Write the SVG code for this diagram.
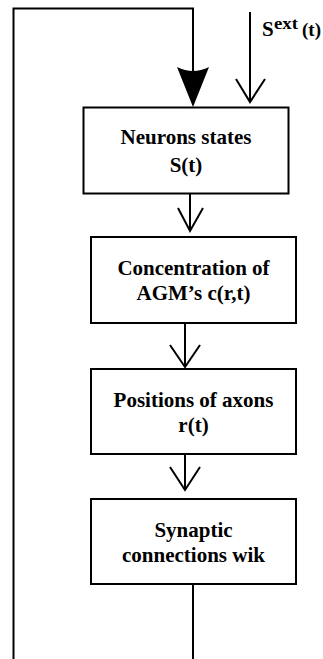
<svg xmlns="http://www.w3.org/2000/svg" width="323" height="659" viewBox="0 0 323 659">
<style>
.box{fill:#fff;stroke:#000;stroke-width:2}
.ln{fill:none;stroke:#000;stroke-width:2}
.t{font-family:"Liberation Serif","Times New Roman",serif;font-weight:bold;font-size:21px;fill:#000;text-anchor:middle}
.lab{font-family:"Liberation Serif","Times New Roman",serif;font-weight:bold;fill:#000}
</style>
<rect width="323" height="659" fill="#fff"/>
<g id="connectors">
<path class="ln" d="M13.5,659 V8.5 H193 V72"/>
<path d="M177,67 Q193,75 209,67 L193,107 Z" fill="#000"/>
<path class="ln" d="M250,12 V102 M236,79 L250,102 L265,79"/>
<path class="ln" d="M190,194 V231 M178,208 L190,231 L203,208"/>
<path class="ln" d="M185,323 V367 M170,345 L185,367 L200,345"/>
<path class="ln" d="M185,454 V490 M170,467 L185,490 L200,467"/>
<path class="ln" d="M193,584 V659"/>
</g>
<g id="sext-label">
<text class="lab" x="262" y="36" font-size="21">S</text>
<text class="lab" x="274" y="29" font-size="16" textLength="24" lengthAdjust="spacingAndGlyphs">ext</text>
<text class="lab" x="302" y="36" font-size="19">(t)</text>
</g>
<g id="node-neurons">
<rect class="box" x="83.5" y="107.5" width="205" height="86"/>
<text class="t" x="186" y="144">Neurons states</text>
<text class="t" x="186" y="172">S(t)</text>
</g>
<g id="node-concentration">
<rect class="box" x="91" y="237" width="205" height="86"/>
<text class="t" x="193.5" y="275">Concentration of</text>
<text class="t" x="193.5" y="300">AGM’s c(r,t)</text>
</g>
<g id="node-positions">
<rect class="box" x="91" y="369" width="205" height="85"/>
<text class="t" x="193.5" y="407">Positions of axons</text>
<text class="t" x="193.5" y="432">r(t)</text>
</g>
<g id="node-synaptic">
<rect class="box" x="91" y="499" width="205" height="85"/>
<text class="t" x="193.5" y="537">Synaptic</text>
<text class="t" x="193.5" y="562">connections wik</text>
</g>
</svg>
